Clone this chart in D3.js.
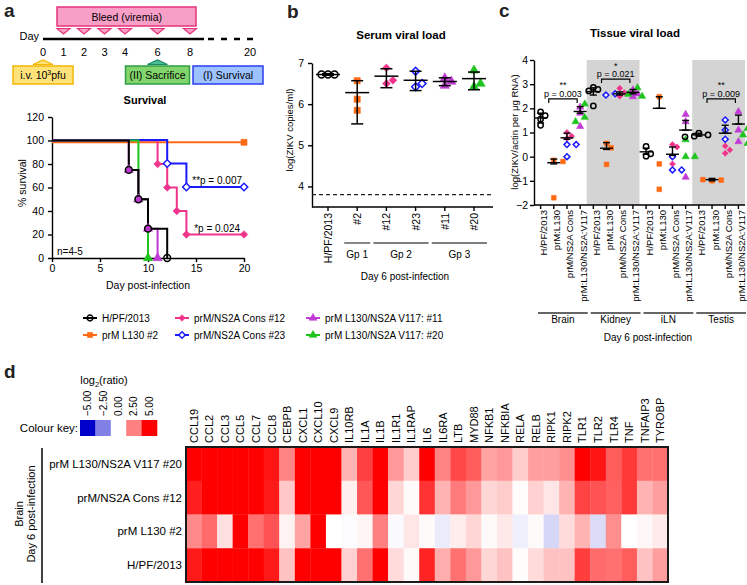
<!DOCTYPE html>
<html><head><meta charset="utf-8">
<script src="https://cdn.jsdelivr.net/npm/d3@7"></script>
<style>
body{margin:0;background:#fff}
svg{display:block}
</style></head><body>
<svg id="fig" width="747" height="585"></svg>
<script>
// ================= DATA =================
// Panel a - timeline
const tlDayTicks = [0, 1, 2, 3, 4, 6, 8, 20];
const bleedDays = [1, 2, 3, 4, 6, 8];
// Panel a - survival (day, % survival)
const survHPF    = [[0,100],[8,75],[9,50],[10,25],[12,0]];
const survL130   = [[0,100],[20,100]];
const survCons12 = [[0,100],[11,80],[12,60],[13,40],[14,20],[20,20]];
const survCons23 = [[0,100],[12,80],[14,60],[20,60]];
const survV11    = [[0,100],[8,75],[9,50],[10,25],[11,0]];
const survV20    = [[0,100],[9,50],[10,0]];
const survTicksX = [0, 5, 10, 15, 20];
const survTicksY = [0, 20, 40, 60, 80, 100, 120];
const legendNames = ["H/PF/2013", "prM/NS2A Cons #12", "prM L130/NS2A V117: #11",
                     "prM L130 #2", "prM/NS2A Cons #23", "prM L130/NS2A V117: #20"];
const legendKeys  = ["hpf", "cons12", "v11", "l130", "cons23", "v20"];

// Panel b - serum viral load
const bCats  = ["H/PF/2013", "#2", "#12", "#23", "#11", "#20"];
const bKeys  = ["hpf", "l130", "cons12", "cons23", "v11", "v20"];
const bVals  = [[6.72,6.72,6.72],[6.57,6.12,5.85],[6.88,6.5,6.58],[6.8,6.42,6.5],[6.63,6.45,6.55],[6.82,6.42,6.5]];
const bMean  = [6.72, 6.28, 6.68, 6.58, 6.55, 6.62];
const bLo    = [6.70, 5.52, 6.40, 6.33, 6.45, 6.35];
const bHi    = [6.74, 6.57, 6.86, 6.80, 6.64, 6.78];
const bLOD   = 3.8;
const bTicks = [4, 5, 6, 7];
const bGroupNames = ["Gp 1", "Gp 2", "Gp 3"];
const bGroupFrom  = ["#2", "#12", "#11"];
const bGroupTo    = ["#2", "#23", "#20"];

// Panel c - tissue viral load ([Brain, Kidney, iLN, Testis])
const cTissues = ["Brain", "Kidney", "iLN", "Testis"];
const cStrains = ["H/PF/2013", "prM:L130", "prM/NS2A Cons", "prM:L130/NS2A:V117"];
const cHPF    = [[1.85,1.7,1.55,1.3],[2.87,2.78,2.72,2.1],[0.42,0.02,0.12],[0.97,0.9,0.85,0.82]];
const cL130   = [[-0.15,-0.2,-1.7],[0.55,0.37,-0.32],[2.48,-0.3,-1.35],[-1.0,-0.97,-0.95]];
const cCons12 = [[1.0,0.85,0.75],[2.83,2.5,2.65],[0.5,0.4,-0.3],[0.44,0.28,0.14]];
const cCons23 = [[0.5,0.5,0.0],[2.6,2.62,2.55],[-0.55,-0.55,0.0],[1.52,1.1,0.72]];
const cV11    = [[2.05,1.8,1.25],[2.76,2.48,2.6],[1.75,1.45,-0.85],[1.86,1.1,0.62]];
const cV20    = [[2.18,1.63,1.45],[2.85,2.58,2.5],[0.7,0.0,0.0],[1.17,0.9,0.55]];
const cCenter = [[1.6,-0.25,0.78,1.87],[2.69,0.35,2.6,2.66],[0.2,2.0,0.1,1.1],[0.9,-0.95,0.97,1.35]];
const cUpper  = [[1.8,-0.1,0.97,2.07],[2.85,0.58,2.68,2.78],[0.35,2.48,0.4,1.5],[0.97,-0.9,1.3,1.72]];
const cLower  = [[1.4,-0.3,0.72,1.8],[2.55,0.3,2.55,2.6],[0.1,2.0,0.05,1.1],[0.85,-1.0,0.97,1.35]];
const cTicks  = [-2, -1, 0, 1, 2, 3, 4];
const cSigTissue = ["Brain", "Kidney", "Testis"];
const cSigStars  = ["**", "*", "**"];
const cSigP      = ["p = 0.003", "p = 0.021", "p = 0.009"];
const cSigLevel  = [2.39, 3.21, 2.39];

// Panel d - heatmap log2(ratio)
const genes = ["CCL19","CCL2","CCL3","CCL5","CCL7","CCL8","CEBPB","CXCL1","CXCL10","CXCL9","IL10RB","IL1A","IL1B","IL1R1","IL1RAP","IL6","IL6RA","LTB","MYD88","NFKB1","NFKBIA","RELA","RELB","RIPK1","RIPK2","TLR1","TLR2","TLR4","TNF","TNFAIP3","TYROBP"];
const hmRows = ["prM L130/NS2A V117 #20", "prM/NS2A Cons #12", "prM L130 #2", "H/PF/2013"];
const hmV117  = [5,5,5,5,5,4.6,2.4,5,5,5,1.5,3.75,5,2.0,1.0,5,2.4,3.6,3.2,1.8,2.0,1.0,1.9,1.9,2.2,5,4.6,3.2,3.9,2.8,2.8];
const hmCons  = [4.4,5,5,5,5,4.5,1.1,5,5,5,0.3,3.3,5,0.8,0.1,4.0,1.5,2.6,2.0,0.8,1.0,0.05,0.9,0.5,1.5,3.7,3.4,3.1,3.9,1.5,1.9];
const hmL130  = [2.3,2.9,0.6,5,2.8,3.4,0.25,1.8,5,0,-0.05,0.2,2.5,-0.1,0.5,0.1,-0.4,0.35,0.8,0.1,0.45,-0.3,0.1,-0.8,0.7,1.5,-0.7,2.2,0,0.15,0.4];
const hmHPF   = [4.5,5,5,5,5,4.5,1.2,5,5,5,0.9,2.8,5,0.7,0.1,4.3,1.6,2.8,2.0,0.8,1.2,0.05,0.7,1.2,1.2,3.8,2.9,2.8,3.2,1.2,1.9];
const keyValues = [-5, -2.5, 0, 2.5, 5];

// ================= STYLE =================
const F = '"Liberation Sans", Arial, Helvetica, sans-serif';
const style = {
  hpf:    {c: "#000000", sym: "circle",   open: true},
  l130:   {c: "#ff6a13", sym: "square",   open: false},
  cons12: {c: "#f0338c", sym: "diamond",  open: false},
  cons23: {c: "#1a1aff", sym: "diamond",  open: true},
  v11:    {c: "#c23ad6", sym: "triangle", open: false},
  v20:    {c: "#1fc41f", sym: "triangle", open: false}
};
const svg = d3.select("#fig").attr("font-family", F);

function txt(g, x, y, s, o = {}) {
  const t = g.append("text").attr("x", x).attr("y", y).text(s)
    .attr("font-size", o.size || 10).attr("text-anchor", o.anchor || "start")
    .attr("fill", o.fill || "#000");
  if (o.bold) t.attr("font-weight", "bold");
  if (o.rotate) t.attr("transform", `rotate(${o.rotate},${x},${y})`);
  if (o.baseline) t.attr("dominant-baseline", o.baseline);
  return t;
}
function sym(g, key, x, y, size) {
  const s = style[key];
  const type = {circle: d3.symbolCircle, square: d3.symbolSquare, diamond: d3.symbolSquare, triangle: d3.symbolTriangle}[s.sym];
  const rot = s.sym === "diamond" ? 45 : 0;
  const sz = s.sym === "diamond" ? size * 0.8 : size;
  g.append("path").attr("d", d3.symbol(type, sz)())
    .attr("transform", `translate(${x},${y}) rotate(${rot})`)
    .attr("fill", s.open ? (key === "hpf" ? "none" : "#fff") : s.c)
    .attr("stroke", s.c).attr("stroke-width", s.open ? 1.5 : 0.6);
}
function styleAxis(g, size) {
  g.attr("font-family", F).attr("font-size", size || 10);
  g.selectAll("path,line").attr("stroke", "#000").attr("stroke-width", 1.4);
  g.selectAll("text").attr("fill", "#000");
}
function swarm(vals, ys, cx, step, minD) {
  const placed = [];
  vals.forEach(p => {
    const y = ys(p.v);
    for (const k of [0, 1, -1, 2, -2, 3, -3]) {
      const x = cx + k * step;
      if (!placed.some(q => Math.hypot(q.x - x, q.y - y) < minD)) { placed.push({...p, x, y}); break; }
    }
  });
  return placed;
}

// Panel letters
[["a", 4, 17], ["b", 287, 18], ["c", 499, 17], ["d", 4, 378]].forEach(([l, x, y]) =>
  txt(svg, x, y, l, {size: 19, bold: true, fill: "#222"}));

// ================= PANEL a : timeline =================
const ta = svg.append("g");
const dayX = d3.scaleLinear().domain([0, 4, 8, 20]).range([43, 125, 190, 250]);
ta.append("rect").attr("x", dayX(1) - 6.5).attr("y", 7).attr("width", dayX(8) + 6 - (dayX(1) - 6.5)).attr("height", 19)
  .attr("fill", "#f89fc8").attr("stroke", "#e6337a").attr("stroke-width", 1.5);
txt(ta, (dayX(1) + dayX(8)) / 2, 20.5, "Bleed (viremia)", {size: 10.5, anchor: "middle"});
bleedDays.forEach(d => {
  const x = dayX(d);
  ta.append("path").attr("d", `M${x - 6.5},28.5 L${x + 6.5},28.5 L${x},34 Z`)
    .attr("fill", "#f89fc8").attr("stroke", "#e6337a").attr("stroke-width", 1.2);
});
txt(ta, 39, 40, "Day", {size: 11, anchor: "end"});
ta.append("line").attr("x1", dayX(0)).attr("x2", 204).attr("y1", 39).attr("y2", 39).attr("stroke", "#000").attr("stroke-width", 2.5);
ta.append("line").attr("x1", 208).attr("x2", 260).attr("y1", 39).attr("y2", 39).attr("stroke", "#000").attr("stroke-width", 2.5).attr("stroke-dasharray", "6,7");
tlDayTicks.forEach(d => txt(ta, dayX(d), 56, String(d), {size: 11, anchor: "middle"}));
const upTri = (x, fill, stroke) => ta.append("path").attr("d", `M${x - 10},64.5 L${x + 10},64.5 L${x},60 Z`)
  .attr("fill", fill).attr("stroke", stroke).attr("stroke-width", 1.2);
upTri(dayX(0), "#ffe37a", "#f2b705");
upTri(dayX(6), "#4cbf98", "#1b8a66");
const box = (x0, x1, fill, stroke) => {
  ta.append("rect").attr("x", x0).attr("y", 66).attr("width", x1 - x0).attr("height", 18)
    .attr("fill", fill).attr("stroke", stroke).attr("stroke-width", 1.5);
  return txt(ta, (x0 + x1) / 2, 79, "", {size: 10.5, anchor: "middle"});
};
const t0 = box(dayX(0) - 30, dayX(0) + 30, "#ffe37a", "#f2b705");
t0.append("tspan").text("i.v. 10");
t0.append("tspan").text("3").attr("font-size", 7).attr("dy", -4);
t0.append("tspan").text("pfu").attr("dy", 4);
box(dayX(6) - 32, dayX(6) + 32, "#82d46c", "#2f9e45").text("(II) Sacrifice");
box(dayX(8) + 3, 263, "#9cc3ff", "#2b3cf0").text("(I) Survival");

// ================= PANEL a : survival =================
const sa = svg.append("g");
const sx = d3.scaleLinear().domain([0, 20]).range([52, 244]);
const sy = d3.scaleLinear().domain([0, 120]).range([258, 117]);
txt(sa, 145, 104, "Survival", {size: 11, bold: true, anchor: "middle"});
const sxa = sa.append("g").attr("transform", "translate(0,258)")
  .call(d3.axisBottom(sx).tickValues(survTicksX).tickSize(4).tickSizeOuter(0).tickPadding(3));
styleAxis(sxa, 10.5);
const sya = sa.append("g").attr("transform", "translate(52,0)")
  .call(d3.axisLeft(sy).tickValues(survTicksY).tickSize(4).tickSizeOuter(0).tickPadding(4));
styleAxis(sya, 10.5);
txt(sa, 26, 183, "% survival", {size: 10.5, anchor: "middle", rotate: -90});
txt(sa, 148, 289, "Day post-infection", {size: 10.5, anchor: "middle"});
txt(sa, 57, 255, "n=4-5", {size: 10});
const survAll = {l130: survL130, cons12: survCons12, cons23: survCons23, v20: survV20, v11: survV11, hpf: survHPF};
const survOff = {l130: 1.8, cons12: 0, cons23: -0.5, v20: 0, v11: 0, hpf: 0};
const stepLine = d3.line().curve(d3.curveStepAfter);
const drawOrder = ["l130", "cons12", "cons23", "v20", "v11", "hpf"];
drawOrder.forEach(k => {
  sa.append("path").attr("d", stepLine(survAll[k].map(([d, s]) => [sx(d), sy(s) + survOff[k]])))
    .attr("fill", "none").attr("stroke", style[k].c).attr("stroke-width", 2);
});
drawOrder.forEach(k => {
  survAll[k].slice(1).forEach(([d, s]) => sym(sa, k, sx(d), sy(s) + survOff[k], 36));
});
txt(sa, sx(17.2), sy(60) - 4, "**p = 0.007", {size: 10, anchor: "middle"});
txt(sa, sx(17.2), sy(20) - 3, "*p = 0.024", {size: 10, anchor: "middle"});

// legend
const lg = svg.append("g");
const legX = [83, 175, 306], legY = [318, 335];
legendKeys.forEach((k, i) => {
  const x = legX[i % 3], y = legY[Math.floor(i / 3)];
  lg.append("line").attr("x1", x).attr("x2", x + 14).attr("y1", y).attr("y2", y).attr("stroke", style[k].c).attr("stroke-width", 2);
  sym(lg, k, x + 7, y, 26);
  txt(lg, x + 19, y, legendNames[i], {size: 10, baseline: "central"});
});

// ================= PANEL b =================
const pb = svg.append("g");
const bx = d3.scalePoint().domain(bCats).range([328, 474]);
const by = d3.scaleLinear().domain([3.5, 7]).range([207, 63]);
txt(pb, 401, 39, "Serum viral load", {size: 11.5, bold: true, anchor: "middle"});
const bya = pb.append("g").attr("transform", "translate(312,0)")
  .call(d3.axisLeft(by).tickValues(bTicks).tickFormat(d3.format("d")).tickSize(4).tickSizeOuter(0).tickPadding(4));
styleAxis(bya, 10.5);
pb.append("line").attr("x1", 312).attr("x2", 493).attr("y1", 207).attr("y2", 207).attr("stroke", "#000").attr("stroke-width", 1.4);
pb.append("line").attr("x1", 312).attr("x2", 493).attr("y1", by(bLOD)).attr("y2", by(bLOD))
  .attr("stroke", "#222").attr("stroke-width", 1.4).attr("stroke-dasharray", "4,3");
bCats.forEach((c, i) => {
  const x = bx(c);
  pb.append("line").attr("x1", x).attr("x2", x).attr("y1", 207).attr("y2", 211).attr("stroke", "#000").attr("stroke-width", 1.4);
  txt(pb, x, 213, c, {size: 10.5, anchor: "end", rotate: -90, baseline: "central"});
  const pts = swarm(bVals[i].map(v => ({v})), by, x, 6.5, 6.2);
  pts.forEach(p => sym(pb, bKeys[i], p.x, p.y, 38));
  const g = pb.append("g").attr("stroke", "#000").attr("stroke-width", 1.5);
  g.append("line").attr("x1", x).attr("x2", x).attr("y1", by(bLo[i])).attr("y2", by(bHi[i]));
  g.append("line").attr("x1", x - 12).attr("x2", x + 12).attr("y1", by(bMean[i])).attr("y2", by(bMean[i]));
  [bLo[i], bHi[i]].forEach(v => g.append("line").attr("x1", x - 6).attr("x2", x + 6).attr("y1", by(v)).attr("y2", by(v)));
});
bGroupNames.forEach((n, i) => {
  const x0 = bx(bGroupFrom[i]) - 13, x1 = bx(bGroupTo[i]) + 13;
  pb.append("line").attr("x1", x0).attr("x2", x1).attr("y1", 243).attr("y2", 243).attr("stroke", "#555").attr("stroke-width", 1.4);
  txt(pb, (x0 + x1) / 2, 258, n, {size: 10, anchor: "middle"});
});
txt(pb, 293, 130, "log(ZIKV copies/ml)", {size: 9.5, anchor: "middle", rotate: -90});
txt(pb, 405, 280, "Day 6 post-infection", {size: 10, anchor: "middle"});

// ================= PANEL c =================
const pc = svg.append("g");
const cKeys = [];
cTissues.forEach(t => cStrains.forEach(s => cKeys.push(t + "|" + s)));
const cx = d3.scaleBand().domain(cKeys).range([534, 745]);
const cy = d3.scaleLinear().domain([-2, 4]).range([205, 60]);
const cbw = cx.bandwidth();
txt(pc, 635, 37, "Tissue viral load", {size: 11.5, bold: true, anchor: "middle"});
["Kidney", "Testis"].forEach(t => {
  const x0 = cx(t + "|" + cStrains[0]), x1 = cx(t + "|" + cStrains[3]) + cbw;
  pc.append("rect").attr("x", x0).attr("y", cy(4)).attr("width", x1 - x0).attr("height", cy(-2) - cy(4)).attr("fill", "#d4d4d4");
});
const cya = pc.append("g").attr("transform", "translate(534,0)")
  .call(d3.axisLeft(cy).tickValues(cTicks).tickFormat(d3.format("d")).tickSize(4).tickSizeOuter(0).tickPadding(2));
styleAxis(cya, 10.5);
pc.append("line").attr("x1", 534).attr("x2", 745).attr("y1", 205).attr("y2", 205).attr("stroke", "#000").attr("stroke-width", 1.4);
const cSeries = [[["hpf", cHPF]], [["l130", cL130]], [["cons12", cCons12], ["cons23", cCons23]], [["v11", cV11], ["v20", cV20]]];
cTissues.forEach((t, ti) => {
  cStrains.forEach((s, si) => {
    const x = cx(t + "|" + s) + cbw / 2;
    pc.append("line").attr("x1", x).attr("x2", x).attr("y1", 205).attr("y2", 209).attr("stroke", "#000").attr("stroke-width", 1.4);
    txt(pc, x + 3, 210, s, {size: 9.5, anchor: "end", rotate: -90, baseline: "central"});
    const vals = [];
    cSeries[si].forEach(([k, arr]) => arr[ti].forEach(v => vals.push({v, k})));
    swarm(vals, cy, x, 4.6, 5.0).forEach(p => sym(pc, p.k, p.x, p.y, 22));
    const g = pc.append("g").attr("stroke", "#000").attr("stroke-width", 1.4);
    g.append("line").attr("x1", x).attr("x2", x).attr("y1", cy(cLower[ti][si])).attr("y2", cy(cUpper[ti][si]));
    g.append("line").attr("x1", x - 6.5).attr("x2", x + 6.5).attr("y1", cy(cCenter[ti][si])).attr("y2", cy(cCenter[ti][si]));
    [cLower[ti][si], cUpper[ti][si]].forEach(v => g.append("line").attr("x1", x - 3.5).attr("x2", x + 3.5).attr("y1", cy(v)).attr("y2", cy(v)));
  });
  const x0 = cx(t + "|" + cStrains[0]) + 4, x1 = cx(t + "|" + cStrains[3]) + cbw + 1;
  pc.append("line").attr("x1", x0).attr("x2", x1).attr("y1", 313).attr("y2", 313).attr("stroke", "#333").attr("stroke-width", 1.4);
  txt(pc, (x0 + x1) / 2, 323, t, {size: 10, anchor: "middle"});
});
cSigTissue.forEach((t, i) => {
  const xa = cx(t + "|" + cStrains[1]) + cbw / 2 - 5, xb = cx(t + "|" + cStrains[3]) + cbw / 2 - 3;
  const y = cy(cSigLevel[i]);
  pc.append("path").attr("d", `M${xa},${y + 4}V${y}H${xb}V${y + 4}`).attr("fill", "none").attr("stroke", "#000").attr("stroke-width", 1.2);
  txt(pc, (xa + xb) / 2, y - 2, cSigP[i], {size: 9, anchor: "middle"});
  txt(pc, (xa + xb) / 2, y - 10.5, cSigStars[i], {size: 9, anchor: "middle"});
});
txt(pc, 518, 132, "log(ZIKV/actin per μg RNA)", {size: 9.5, anchor: "middle", rotate: -90});
txt(pc, 648, 341, "Day 6 post-infection", {size: 10, anchor: "middle"});

// ================= PANEL d =================
const pd = svg.append("g");
const color = d3.scaleLinear().domain([-5, 0, 5]).range(["#0000cc", "#ffffff", "#ff0000"]).clamp(true);
const hx = d3.scaleBand().domain(genes).range([186, 668]);
const hy = d3.scaleBand().domain(hmRows).range([447, 582]);
const hmData = [hmV117, hmCons, hmL130, hmHPF];
hmRows.forEach((r, ri) => {
  genes.forEach((g, gi) => {
    pd.append("rect").attr("x", hx(g)).attr("y", hy(r)).attr("width", hx.bandwidth() + 0.3).attr("height", hy.bandwidth() + 0.3)
      .attr("fill", color(hmData[ri][gi]));
  });
  txt(pd, 182, hy(r) + hy.bandwidth() / 2, r, {size: 11.5, anchor: "end", baseline: "central"});
});
pd.append("rect").attr("x", 186).attr("y", 447).attr("width", 482).attr("height", 135)
  .attr("fill", "none").attr("stroke", "#1a1a1a").attr("stroke-width", 2);
genes.forEach(g => txt(pd, hx(g) + hx.bandwidth() / 2, 443, g, {size: 11, anchor: "start", rotate: -90, baseline: "central"}));
const kx = d3.scaleBand().domain(keyValues).range([80, 157]);
keyValues.forEach(v => {
  pd.append("rect").attr("x", kx(v)).attr("y", 420).attr("width", kx.bandwidth() + 0.3).attr("height", 16).attr("fill", color(v));
  txt(pd, kx(v) + kx.bandwidth() / 2, 416, d3.format(".2f")(v), {size: 10, anchor: "start", rotate: -90, baseline: "central"});
});
txt(pd, 78, 428, "Colour key:", {size: 11.5, anchor: "end", baseline: "central"});
const lr = txt(pd, 104, 384, "", {size: 11, anchor: "middle"});
lr.append("tspan").text("log");
lr.append("tspan").text("2").attr("font-size", 7.5).attr("dy", 3);
lr.append("tspan").text("(ratio)").attr("dy", -3);
pd.append("line").attr("x1", 42).attr("x2", 42).attr("y1", 448).attr("y2", 583).attr("stroke", "#000").attr("stroke-width", 1.5);
txt(pd, 23, 514, "Brain", {size: 11, anchor: "middle", rotate: -90});
txt(pd, 35, 514, "Day 6 post-infection", {size: 11, anchor: "middle", rotate: -90});
</script></body></html>
